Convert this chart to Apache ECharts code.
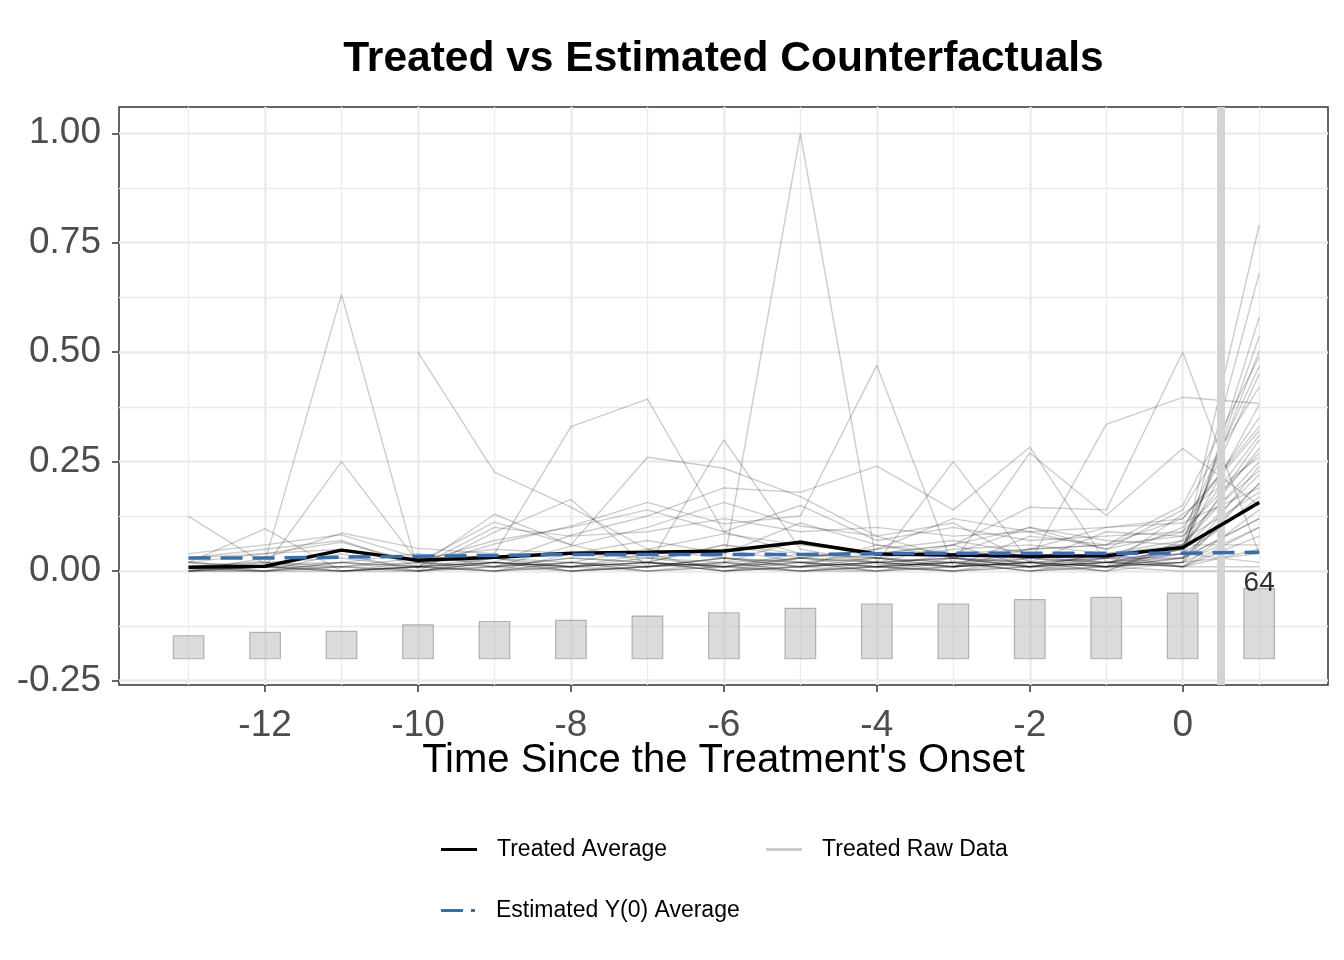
<!DOCTYPE html>
<html>
<head>
<meta charset="utf-8">
<script src="https://cdn.jsdelivr.net/npm/echarts@6/dist/echarts.min.js"></script>
<style>
  html, body { margin: 0; padding: 0; background: #ffffff; }
  #chart { width: 1344px; height: 960px; }
</style>
</head>
<body>
<div id="chart"></div>
<script>
// ---------- data ----------
const periods = [-13, -12, -11, -10, -9, -8, -7, -6, -5, -4, -3, -2, -1, 0, 1];
const treatedAverage = [0.009, 0.011, 0.048, 0.025, 0.032, 0.041, 0.043, 0.046, 0.066, 0.039, 0.037, 0.034, 0.035, 0.054, 0.157];
const estimatedY0 = [0.030, 0.030, 0.032, 0.034, 0.036, 0.038, 0.038, 0.038, 0.038, 0.040, 0.041, 0.041, 0.041, 0.041, 0.043];
const unitCounts = [21, 24, 25, 31, 34, 35, 39, 42, 46, 50, 50, 54, 56, 60, 64];

const rawUnits = [
  [0.010, 0.023, 0.632, 0.000, 0.020, 0.010, 0.020, 0.010, 0.030, 0.020, 0.010, 0.020, 0.010, 0.030, 0.120],
  [0.000, 0.010, 0.000, 0.010, 0.020, 0.000, 0.010, 0.016, 1.000, 0.015, 0.020, 0.000, 0.010, 0.020, 0.200],
  [null, null, null, 0.500, 0.226, 0.146, 0.050, 0.030, 0.020, 0.010, 0.020, 0.030, 0.020, 0.040, 0.790],
  [0.125, 0.016, 0.020, 0.010, 0.000, 0.020, 0.010, 0.030, 0.010, 0.020, 0.000, 0.010, 0.020, 0.010, 0.050],
  [0.020, 0.010, 0.250, 0.020, 0.030, 0.010, 0.020, 0.000, 0.030, 0.010, 0.020, 0.040, 0.010, 0.030, 0.680],
  [0.020, 0.097, 0.000, 0.010, 0.130, 0.060, 0.020, 0.010, 0.020, 0.030, 0.010, 0.020, 0.000, 0.020, 0.580],
  [0.000, 0.030, 0.087, 0.052, 0.040, 0.330, 0.393, 0.090, 0.040, 0.020, 0.030, 0.010, 0.020, 0.050, 0.300],
  [0.030, 0.040, 0.066, 0.020, 0.112, 0.060, 0.260, 0.235, 0.170, 0.080, 0.030, 0.020, 0.010, 0.040, 0.536],
  [0.010, 0.000, 0.040, 0.000, 0.089, 0.164, 0.010, 0.300, 0.050, 0.020, 0.250, 0.020, 0.030, 0.060, 0.250],
  [0.000, 0.020, 0.030, 0.010, 0.062, 0.103, 0.157, 0.108, 0.126, 0.470, 0.010, 0.030, 0.020, 0.050, 0.502],
  [0.020, 0.010, 0.010, 0.030, 0.020, 0.082, 0.126, 0.190, 0.180, 0.240, 0.140, 0.283, 0.020, 0.010, 0.100],
  [0.010, 0.000, 0.020, 0.040, 0.010, 0.057, 0.100, 0.157, 0.103, 0.080, 0.110, 0.020, 0.335, 0.397, 0.383],
  [0.000, 0.010, 0.000, 0.000, 0.030, 0.020, 0.050, 0.085, 0.060, 0.040, 0.060, 0.146, 0.140, 0.500, 0.040],
  [null, 0.020, 0.010, 0.020, 0.010, 0.030, 0.020, 0.060, 0.040, 0.030, 0.020, 0.270, 0.127, 0.280, 0.150],
  [0.000, 0.000, 0.010, 0.000, 0.020, 0.010, 0.030, 0.020, 0.010, 0.060, 0.030, 0.050, 0.060, 0.150, 0.489],
  [0.010, 0.020, 0.000, 0.010, 0.000, 0.040, 0.030, 0.050, 0.020, 0.010, 0.040, 0.100, 0.050, 0.089, 0.468],
  [0.005, 0.000, 0.020, 0.010, 0.030, 0.000, 0.010, 0.020, 0.070, 0.030, 0.050, 0.060, 0.040, 0.070, 0.450],
  [0.000, 0.010, 0.000, 0.020, 0.010, 0.020, 0.000, 0.010, 0.030, 0.050, 0.070, 0.040, 0.030, 0.100, 0.350],
  [0.020, 0.000, 0.010, 0.000, 0.020, 0.010, 0.020, 0.000, 0.010, 0.020, 0.010, 0.080, 0.060, 0.120, 0.330],
  [0.000, 0.000, 0.000, 0.010, 0.000, 0.020, 0.010, 0.030, 0.020, 0.000, 0.030, 0.020, 0.090, 0.080, 0.310],
  [0.010, 0.010, 0.020, 0.000, 0.010, 0.000, 0.020, 0.010, 0.000, 0.010, 0.020, 0.010, 0.040, 0.060, 0.280],
  [null, null, 0.000, 0.010, 0.020, 0.010, 0.000, 0.020, 0.030, 0.020, 0.010, 0.020, 0.010, 0.130, 0.260],
  [null, null, null, 0.000, 0.010, 0.030, 0.020, 0.010, 0.000, 0.020, 0.030, 0.010, 0.020, 0.020, 0.240],
  [null, null, null, 0.020, 0.000, 0.010, 0.040, 0.000, 0.020, 0.010, 0.000, 0.030, 0.010, 0.050, 0.220],
  [null, null, null, 0.010, 0.020, 0.000, 0.010, 0.030, 0.010, 0.000, 0.020, 0.000, 0.030, 0.030, 0.200],
  [null, null, null, null, 0.010, 0.020, 0.000, 0.010, 0.040, 0.030, 0.010, 0.020, 0.000, 0.070, 0.180],
  [null, null, null, null, 0.000, 0.010, 0.020, 0.000, 0.010, 0.020, 0.060, 0.010, 0.020, 0.040, 0.160],
  [null, null, null, null, null, 0.000, 0.010, 0.020, 0.000, 0.010, 0.020, 0.010, 0.040, 0.010, 0.140],
  [null, null, null, null, null, null, 0.030, 0.010, 0.020, 0.000, 0.010, 0.040, 0.020, 0.030, 0.120],
  [null, null, null, null, null, null, null, 0.000, 0.010, 0.030, 0.020, 0.000, 0.010, 0.020, 0.100],
  [null, null, null, null, null, null, null, 0.020, 0.000, 0.010, 0.000, 0.020, 0.030, 0.010, 0.080],
  [null, null, null, null, null, null, null, null, 0.010, 0.020, 0.030, 0.010, 0.000, 0.060, 0.060],
  [null, null, null, null, null, null, null, null, 0.000, 0.000, 0.010, 0.020, 0.010, 0.020, 0.040],
  [null, null, null, null, null, null, null, null, null, 0.010, 0.000, 0.010, 0.030, 0.040, 0.020],
  [null, null, null, null, null, null, null, null, null, null, null, 0.000, 0.020, 0.010, 0.010],
  [null, null, null, null, null, null, null, null, null, null, null, null, 0.010, 0.000, 0.000],
  [null, null, null, null, null, null, null, null, null, null, null, null, null, 0.030, 0.170],
  [0.040, 0.060, 0.083, 0.030, 0.050, 0.040, 0.070, 0.040, 0.110, 0.060, 0.040, 0.050, 0.060, 0.080, 0.230],
  [0.030, 0.050, 0.070, 0.010, 0.100, 0.080, 0.090, 0.120, 0.090, 0.100, 0.080, 0.090, 0.100, 0.110, 0.190],
  [0.020, 0.040, 0.050, 0.020, 0.070, 0.100, 0.140, 0.090, 0.150, 0.070, 0.100, 0.070, 0.080, 0.090, 0.270],
  [null, null, null, null, null, null, 0.020, 0.060, 0.030, 0.050, 0.120, 0.090, 0.050, 0.140, 0.420],
  [null, null, null, null, null, null, null, null, 0.020, 0.040, 0.060, 0.100, 0.070, 0.060, 0.380],
  [null, null, null, null, null, null, null, null, null, null, 0.010, 0.050, 0.100, 0.120, 0.320]
];

const xMajorTicks = [-12, -10, -8, -6, -4, -2, 0];
const xMinorTicks = [-13, -11, -9, -7, -5, -3, -1, 1];
const yMajorTicks = [-0.25, 0, 0.25, 0.5, 0.75, 1];
const yMinorTicks = [-0.125, 0.125, 0.375, 0.625, 0.875];
const treatmentMarker = 0.5;

const titleText = 'Treated vs Estimated Counterfactuals';
const xTitle = "Time Since the Treatment's Onset";

// ---------- layout / style constants ----------
const FONT = "'Liberation Sans', Arial, Helvetica, sans-serif";
const X_MIN = -13.91, X_MAX = 1.9;
const Y_MIN = -0.26, Y_MAX = 1.06;
const BAR_BASE = -0.2, BAR_SPAN = 0.16, BAR_HALF = 0.2;
const GRID = { left: 119, top: 107, width: 1209, height: 578 };

const maxCount = Math.max(...unitCounts);
const barData = periods.map((p, i) => [p, BAR_BASE + unitCounts[i] / maxCount * BAR_SPAN]);
const lastIdx = periods.length - 1;

const series = [];

// gray vertical band at treatment onset
series.push({
  name: 'onset', type: 'line', data: [], z: 1, silent: true,
  markLine: {
    silent: true, symbol: 'none', label: { show: false },
    lineStyle: { color: '#d3d3d3', width: 8, type: 'solid' },
    data: [{ xAxis: treatmentMarker }]
  }
});

// count bars
series.push({
  name: 'counts', type: 'custom', z: 2, silent: true,
  data: barData,
  renderItem: function (params, api) {
    const x = api.value(0), top = api.value(1);
    const p1 = api.coord([x - BAR_HALF, top]);
    const p2 = api.coord([x + BAR_HALF, BAR_BASE]);
    return {
      type: 'rect',
      shape: { x: p1[0], y: p1[1], width: p2[0] - p1[0], height: p2[1] - p1[1] },
      style: { fill: 'rgba(190,190,190,0.55)', stroke: 'rgba(130,130,130,0.55)', lineWidth: 1.2 }
    };
  }
});

// raw unit lines
rawUnits.forEach(function (arr) {
  series.push({
    name: 'Treated Raw Data', type: 'line', z: 3, silent: true,
    symbol: 'none', connectNulls: false,
    data: periods.map((p, i) => [p, arr[i]]),
    lineStyle: { color: 'rgba(0,0,0,0.2)', width: 1.4 },
    itemStyle: { color: 'rgba(0,0,0,0.2)' }
  });
});

series.push({
  name: 'Treated Average', type: 'line', z: 5, symbol: 'none',
  data: periods.map((p, i) => [p, treatedAverage[i]]),
  lineStyle: { color: '#000000', width: 3.5 },
  itemStyle: { color: '#000000' }
});

series.push({
  name: 'Estimated Y(0) Average', type: 'line', z: 6, symbol: 'none',
  data: periods.map((p, i) => [p, estimatedY0[i]]),
  lineStyle: { color: '#3a6ea8', width: 3.5, type: [22, 10] },
  itemStyle: { color: '#3a6ea8' }
});

// count label at last period
series.push({
  name: 'countLabel', type: 'scatter', z: 7, silent: true,
  symbolSize: 0,
  data: [[periods[lastIdx], -0.027, unitCounts[lastIdx]]],
  label: {
    show: true, position: 'inside', color: '#000', fontSize: 28, fontFamily: FONT,
    formatter: function (p) { return String(p.value[2]); }
  }
});

const chart = echarts.init(document.getElementById('chart'), null, { renderer: 'canvas' });

const legendText = { fontSize: 23, color: '#000', fontFamily: FONT, padding: [0, 0, 0, 15] };

chart.setOption({
  backgroundColor: '#ffffff',
  animation: false,
  textStyle: { fontFamily: FONT },
  graphic: [{
    type: 'text', x: GRID.left + GRID.width / 2, y: 59,
    style: { text: titleText, font: 'bold 42.5px ' + FONT, fill: '#000', textAlign: 'center', textVerticalAlign: 'middle' }
  }],
  grid: {
    left: GRID.left, top: GRID.top, width: GRID.width, height: GRID.height,
    show: true, borderColor: '#333333', borderWidth: 1.5, backgroundColor: 'transparent'
  },
  legend: [{
    data: [
      { name: 'Treated Average', icon: 'rect', itemStyle: { color: '#000000' } },
      { name: 'Treated Raw Data', icon: 'rect', itemStyle: { color: '#cccccc' } }
    ],
    left: 436, top: 833, itemWidth: 36, itemHeight: 3, itemGap: 99,
    textStyle: legendText, selectedMode: false
  }, {
    data: [
      { name: 'Estimated Y(0) Average', icon: 'path://M0,0h22v3h-22z M30,0h4v3h-4z', itemStyle: { color: '#3a6ea8' } }
    ],
    left: 436, top: 894, itemWidth: 36, itemHeight: 3,
    textStyle: legendText, selectedMode: false
  }],
  xAxis: [{
    type: 'value', min: X_MIN, max: X_MAX, position: 'bottom',
    name: xTitle, nameLocation: 'middle', nameGap: 56, nameMoveOverlap: false,
    nameTextStyle: { fontSize: 40, color: '#000', fontFamily: FONT },
    axisLine: { show: false, onZero: false },
    axisTick: { show: true, customValues: xMajorTicks, length: 7, lineStyle: { color: '#333', width: 1.5 } },
    axisLabel: { customValues: xMajorTicks, fontSize: 37, color: '#4d4d4d', margin: 22, fontFamily: FONT },
    splitLine: { show: true, lineStyle: { color: '#ebebeb', width: 2.5 } }
  }, {
    type: 'value', min: X_MIN, max: X_MAX, position: 'bottom',
    axisLine: { show: false, onZero: false },
    axisTick: { show: false, customValues: xMinorTicks },
    axisLabel: { show: false, customValues: xMinorTicks },
    splitLine: { show: true, lineStyle: { color: '#ebebeb', width: 1.3 } }
  }],
  yAxis: [{
    type: 'value', min: Y_MIN, max: Y_MAX, position: 'left',
    axisLine: { show: false, onZero: false },
    axisTick: { show: true, customValues: yMajorTicks, length: 7, lineStyle: { color: '#333', width: 1.5 } },
    axisLabel: {
      customValues: yMajorTicks, fontSize: 37, color: '#4d4d4d', margin: 18, fontFamily: FONT,
      formatter: function (v) { return Number(v).toFixed(2); }
    },
    splitLine: { show: true, lineStyle: { color: '#ebebeb', width: 2.5 } }
  }, {
    type: 'value', min: Y_MIN, max: Y_MAX, position: 'left',
    axisLine: { show: false, onZero: false },
    axisTick: { show: false, customValues: yMinorTicks },
    axisLabel: { show: false, customValues: yMinorTicks },
    splitLine: { show: true, lineStyle: { color: '#ebebeb', width: 1.3 } }
  }],
  series: series
});
</script>
</body>
</html>
